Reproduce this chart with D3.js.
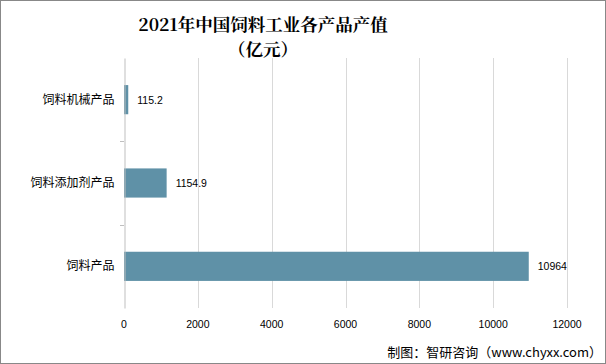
<!DOCTYPE html>
<html><head><meta charset="utf-8">
<script src="https://cdn.jsdelivr.net/npm/d3@7"></script>
<style>body{margin:0;background:#fff}svg{display:block}</style>
</head><body><svg id="c" width="606" height="364"></svg>
<script>
const categories = ["饲料机械产品", "饲料添加剂产品", "饲料产品"];
const values = [115.2, 1154.9, 10964];
const valueLabels = ["115.2", "1154.9", "10964"];
const xTicks = [0, 2000, 4000, 6000, 8000, 10000, 12000];
const titleLines = ["2021年中国饲料工业各产品产值", "（亿元）"];
const source = "制图：智研咨询（www.chyxx.com）";

const svg = d3.select("#c");
const W = 606, H = 364;
const m = {left: 124, right: 39, top: 58, bottom: 56};
svg.append("rect").attr("x",0.5).attr("y",0.5).attr("width",W-1).attr("height",H-1)
  .attr("fill","#fff").attr("stroke","#888").attr("stroke-width",1);

const x = d3.scaleLinear().domain([0,12000]).range([m.left, W-m.right]);
const y = d3.scaleBand().domain(categories).range([m.top, H-m.bottom]).paddingInner(0.65).paddingOuter(0.325);
const yb = d3.scaleBand().domain(categories).range([m.top, H-m.bottom]);

// grid
svg.append("g").selectAll("line").data(xTicks.slice(1)).join("line")
  .attr("x1",d=>Math.round(x(d))+0.5).attr("x2",d=>Math.round(x(d))+0.5)
  .attr("y1",m.top).attr("y2",H-m.bottom).attr("stroke","#d9d9d9");

// bars
svg.append("g").selectAll("rect").data(values).join("rect")
  .attr("x",x(0)).attr("y",(d,i)=>y(categories[i])).attr("height",y.bandwidth())
  .attr("width",d=>x(d)-x(0)).attr("fill","#5f91a7");

// y axis
const ya = svg.append("g").attr("transform",`translate(${m.left+0.5},0)`)
  .call(d3.axisLeft(yb).tickSize(0).tickPadding(10));
ya.select(".domain").attr("stroke","#bfbfbf");
ya.selectAll("text").attr("font-family","'Noto Sans CJK SC','Noto Sans',sans-serif").attr("font-size",12).attr("fill","#000");
svg.append("g").selectAll("line").data(categories.slice(1)).join("line")
  .attr("x1",m.left-4).attr("x2",m.left).attr("y1",d=>Math.round(yb(d))+0.5).attr("y2",d=>Math.round(yb(d))+0.5)
  .attr("stroke","#bfbfbf");

// x axis labels
svg.append("g").selectAll("text").data(xTicks).join("text")
  .attr("x",d=>x(d)).attr("y",328).attr("text-anchor","middle")
  .attr("font-family","'Liberation Sans',Arial,sans-serif").attr("font-size",10.5).attr("fill","#000")
  .text(d=>d);

// value labels
svg.append("g").selectAll("text").data(values).join("text")
  .attr("x",d=>x(d)+9).attr("y",(d,i)=>y(categories[i])+y.bandwidth()/2+4)
  .attr("font-family","'Liberation Sans',Arial,sans-serif").attr("font-size",10.5).attr("fill","#000")
  .text((d,i)=>valueLabels[i]);

// title
svg.append("g").selectAll("text").data(titleLines).join("text")
  .attr("x",263).attr("y",(d,i)=>31+i*25).attr("text-anchor","middle")
  .attr("font-family","'Noto Serif CJK SC','Liberation Serif','DejaVu Serif',serif")
  .attr("font-weight","bold").attr("font-size",17.5).attr("fill","#000").text(d=>d);

// source
svg.append("text").attr("x",602).attr("y",357).attr("text-anchor","end")
  .attr("font-family","'Noto Sans CJK SC','Noto Sans',sans-serif").attr("font-size",13).attr("fill","#000")
  .text(source);
</script></body></html>
